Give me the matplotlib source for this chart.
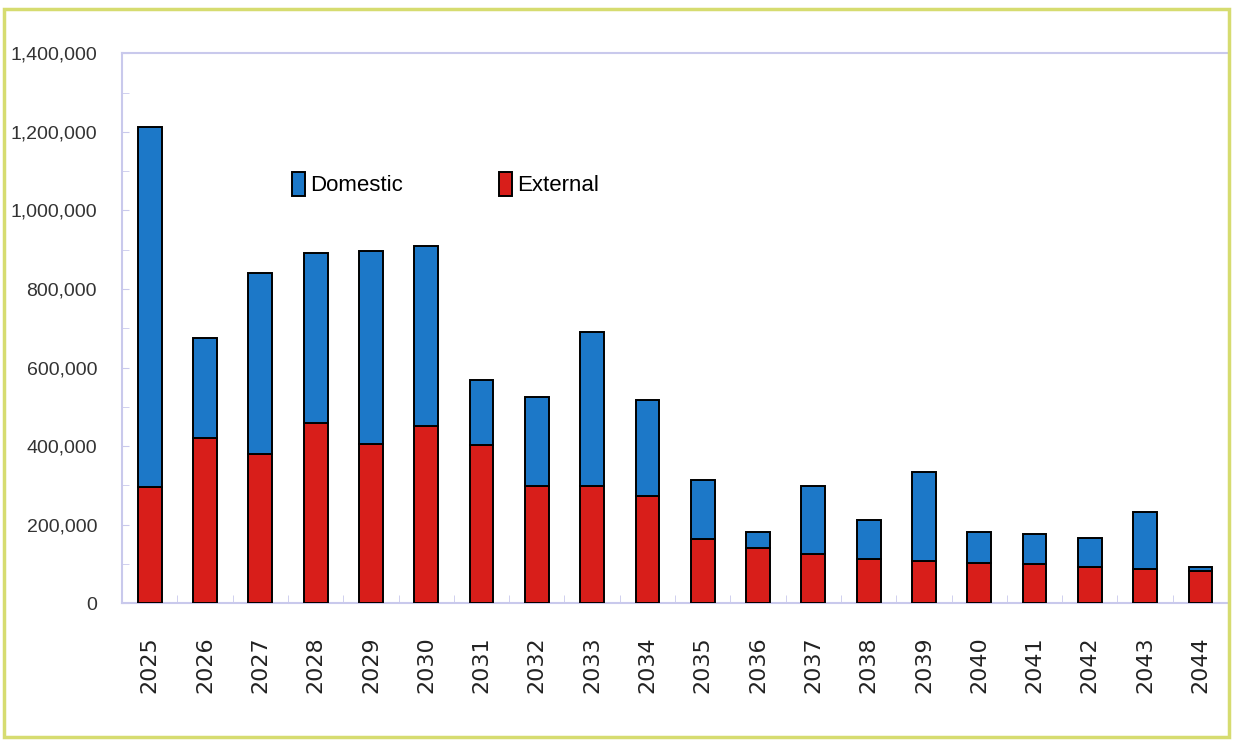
import matplotlib.pyplot as plt
import numpy as np
from matplotlib.patches import Rectangle
from matplotlib.ticker import FuncFormatter, MultipleLocator

# values
years = [str(y) for y in range(2025, 2045)]
external = [295000, 421000, 380000, 460000, 406000, 450000, 404000, 299000,
            299000, 273000, 163000, 140000, 125000, 112000, 107000, 102000,
            100000, 92000, 87000, 82000]
total = [1213000, 674000, 840000, 891000, 896000, 909000, 567000, 524000,
         690000, 518000, 314000, 181000, 299000, 212000, 335000, 181000,
         176000, 166000, 232000, 92000]
domestic = [t - e for t, e in zip(total, external)]

blue = '#1c78c8'
red = '#d81e1a'
axis_col = '#c9c9ec'

fig = plt.figure(figsize=(12.33, 7.41), dpi=100)
ax = fig.add_axes([0.099, 0.186, 0.897, 0.742])

x = np.arange(len(years))
ax.bar(x, external, width=0.43, color=red, edgecolor='black', linewidth=1.4,
       label='External', zorder=3)
ax.bar(x, domestic, width=0.43, bottom=external, color=blue,
       edgecolor='black', linewidth=1.4, label='Domestic', zorder=3)

ax.set_xlim(-0.47, len(years) - 0.57)
ax.set_ylim(0, 1400000)
ax.yaxis.set_major_locator(MultipleLocator(200000))
ax.yaxis.set_minor_locator(MultipleLocator(100000))
ax.yaxis.set_major_formatter(FuncFormatter(lambda v, p: f'{int(v):,}'))
ax.set_xticks(x)
ax.set_xticklabels(years, rotation=90, fontsize=16, color='#222222',
                   family=['DejaVu Sans'])
ax.set_xticks(np.arange(-0.5, len(years), 0.5), minor=True)

for lab in ax.get_yticklabels():
    lab.set_family(['Liberation Sans', 'DejaVu Sans'])
    lab.set_fontsize(14)
    lab.set_color('#333333')

ax.tick_params(axis='y', which='both', direction='in', color=axis_col,
               length=5, pad=18)
ax.tick_params(axis='x', which='major', length=0, pad=24)
ax.tick_params(axis='x', which='minor', direction='in', color=axis_col,
               length=6)

for side in ['left', 'top', 'bottom', 'right']:
    ax.spines[side].set_color(axis_col)
    ax.spines[side].set_linewidth(1.5)
ax.spines['right'].set_visible(False)

handles, labels = ax.get_legend_handles_labels()
ax.legend(handles[::-1], labels[::-1], ncol=2, frameon=False,
          loc='center left', bbox_to_anchor=(0.136, 0.762),
          handlelength=0.55, handleheight=1.3, handletextpad=0.25,
          columnspacing=4.33,
          prop={'family': ['Liberation Sans'], 'size': 16})

# yellow-green frame round the figure
fig.patches.append(Rectangle((0.003, 0.005), 0.994, 0.983,
                             transform=fig.transFigure, fill=False,
                             edgecolor='#d6dc70', linewidth=2.5))

fig.savefig('out.png', dpi=100)
